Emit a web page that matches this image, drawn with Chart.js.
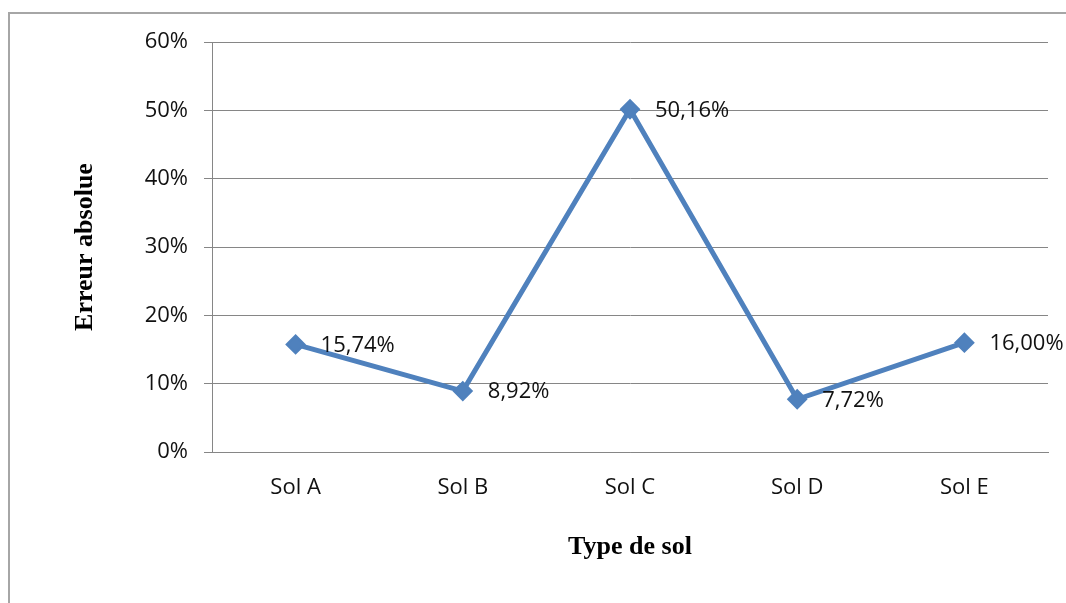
<!DOCTYPE html>
<html>
<head>
<meta charset="utf-8">
<script src="https://cdn.jsdelivr.net/npm/chart.js@4/dist/chart.umd.min.js"></script>
<style>
  html, body { margin: 0; padding: 0; background: #fff; }
  #wrap { position: relative; width: 1066px; height: 603px; overflow: hidden; }
  #frame { position: absolute; left: 8px; top: 12px; width: 1100px; height: 700px;
           border-left: 2px solid #a6a6a6; border-top: 2px solid #a6a6a6; }
  canvas { position: absolute; left: 0; top: 0; }
</style>
</head>
<body>
<div id="wrap">
  <div id="frame"></div>
  <canvas id="c" width="1066" height="603"></canvas>
</div>
<script>
const categories = ['Sol A', 'Sol B', 'Sol C', 'Sol D', 'Sol E'];
const erreurAbsolue = [15.74, 8.92, 50.16, 7.72, 16.00];
const valueLabels = ['15,74%', '8,92%', '50,16%', '7,72%', '16,00%'];
const yTicks = [0, 10, 20, 30, 40, 50, 60];

const tickFont = { family: '"Open Sans", "DejaVu Sans", sans-serif', size: 22 };
const titleFont = { family: '"Liberation Serif", "Times New Roman", serif', size: 26, weight: 'bold' };

const dataLabelPlugin = {
  id: 'dataLabels',
  afterDatasetsDraw(chart) {
    const ctx = chart.ctx;
    const meta = chart.getDatasetMeta(0);
    ctx.save();
    ctx.font = tickFont.size + 'px ' + tickFont.family;
    ctx.fillStyle = '#111';
    ctx.textAlign = 'left';
    ctx.textBaseline = 'middle';
    meta.data.forEach((pt, i) => {
      ctx.fillText(valueLabels[i], pt.x + 25, pt.y + 1);
    });
    ctx.restore();
  }
};

new Chart(document.getElementById('c'), {
  type: 'line',
  data: {
    labels: categories,
    datasets: [{
      data: erreurAbsolue,
      borderColor: '#4f81bd',
      backgroundColor: '#4f81bd',
      borderWidth: 5,
      pointStyle: 'rectRot',
      pointRadius: 9,
      pointHoverRadius: 9,
      pointBorderWidth: 2,
      pointBorderColor: '#4f81bd',
      pointBackgroundColor: '#4f81bd',
      tension: 0,
      fill: false,
      clip: false
    }]
  },
  options: {
    responsive: false,
    animation: false,
    devicePixelRatio: 1,
    layout: { padding: { left: 0, top: 42, right: 18, bottom: 0 } },
    plugins: { legend: { display: false }, tooltip: { enabled: false } },
    scales: {
      x: {
        offset: true,
        grid: { display: false, drawTicks: false },
        border: { display: true, color: '#868686', width: 1 },
        ticks: { font: tickFont, color: '#111', padding: 23, maxRotation: 0 },
        title: { display: true, text: 'Type de sol', font: titleFont, color: '#000', padding: { top: 0, bottom: 40 } },
        afterFit(scale) { scale.height = 151; }
      },
      y: {
        min: 0,
        max: 60,
        afterBuildTicks(scale) { scale.ticks = yTicks.map(v => ({ value: v })); },
        grid: { color: '#868686', lineWidth: 1, drawTicks: true, tickLength: 8, tickColor: '#868686' },
        border: { display: true, color: '#868686', width: 1 },
        ticks: { font: tickFont, color: '#111', padding: 16, callback: v => v + '%' },
        title: { display: true, text: 'Erreur absolue', font: titleFont, color: '#000', padding: { top: 70, bottom: 0 } },
        afterFit(scale) { scale.width = 212; }
      }
    }
  },
  plugins: [dataLabelPlugin]
});
</script>
</body>
</html>
